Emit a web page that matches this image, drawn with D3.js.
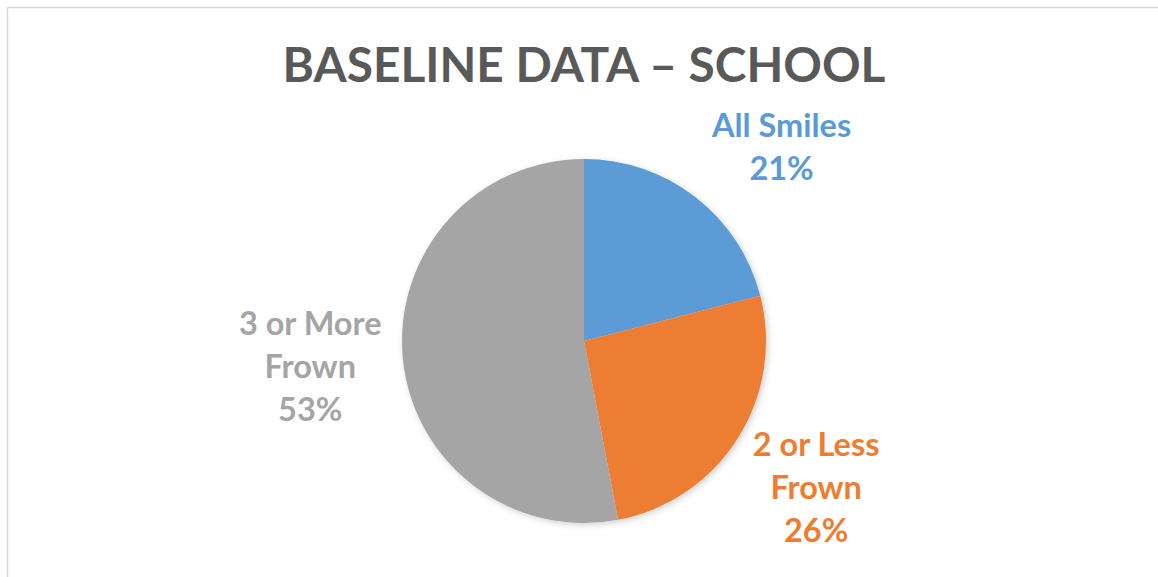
<!DOCTYPE html>
<html lang="en">
<head>
<meta charset="utf-8" />
<title>Baseline Data - School</title>
<script src="https://d3js.org/d3.v7.min.js"></script>
<style>
  body { margin: 0; background: #fff; }
  text { font-family: Lato, "Open Sans", sans-serif; font-weight: bold; }
</style>
</head>
<body>
<script>
// chart data
var categories = ["All Smiles", "2 or Less Frown", "3 or More Frown"];
var labelLines = [["All Smiles"], ["2 or Less", "Frown"], ["3 or More", "Frown"]];
var values = [21, 26, 53];
var colors = ["#5B9BD5", "#ED7D31", "#A5A5A5"];
var title = "BASELINE DATA \u2013 SCHOOL";

var width = 1158, height = 577;
var cx = 584, cy = 341, radius = 182;

var svg = d3.select("body").append("svg")
    .attr("width", width)
    .attr("height", height);

// chart area border
svg.append("rect")
    .attr("x", 7.5).attr("y", 7.5)
    .attr("width", width + 10).attr("height", height + 10)
    .attr("fill", "none")
    .attr("stroke", "#d9d9d9")
    .attr("stroke-width", 1.5);

// soft shadow under the pie
var defs = svg.append("defs");
var f = defs.append("filter").attr("id", "shadow")
    .attr("x", "-10%").attr("y", "-10%").attr("width", "120%").attr("height", "120%");
f.append("feDropShadow")
    .attr("dx", 2).attr("dy", 2).attr("stdDeviation", 3)
    .attr("flood-color", "#000").attr("flood-opacity", 0.18);

// title, fitted to the width it has in the picture
var t = svg.append("text")
    .attr("x", cx)
    .attr("y", 82)
    .attr("text-anchor", "middle")
    .attr("fill", "#595959")
    .style("font-size", "50px")
    .text(title);
var tw = t.node().getComputedTextLength();
t.style("font-size", (50 * 603 / tw) + "px");

var pie = d3.pie().sort(null).value(function(d) { return d; });
var arcs = pie(values);

var arc = d3.arc().innerRadius(0).outerRadius(radius);
var labelArc = d3.arc().innerRadius(275).outerRadius(275);

var g = svg.append("g")
    .attr("transform", "translate(" + cx + "," + cy + ")");

g.append("g").attr("filter", "url(#shadow)")
  .selectAll("path")
  .data(arcs)
  .enter().append("path")
    .attr("d", arc)
    .attr("fill", function(d, i) { return colors[i]; });

// small nudges, like the best-fit placement of the original
var nudge = [[29, 24], [0, 0], [0, 0]];
var lineH = 43;

arcs.forEach(function(d, i) {
  var c = labelArc.centroid(d);
  var lines = labelLines[i].concat([Math.round(d.data) + "%"]);
  var x0 = c[0] + nudge[i][0];
  var y0 = c[1] + nudge[i][1] - (lines.length - 1) * lineH / 2;
  var txt = g.append("text")
      .attr("text-anchor", "middle")
      .attr("fill", colors[i])
      .style("font-size", "32.5px");
  lines.forEach(function(s, j) {
    txt.append("tspan")
        .attr("x", x0)
        .attr("y", y0 + j * lineH)
        .attr("dy", "0.33em")
        .text(s);
  });
});
</script>
</body>
</html>
